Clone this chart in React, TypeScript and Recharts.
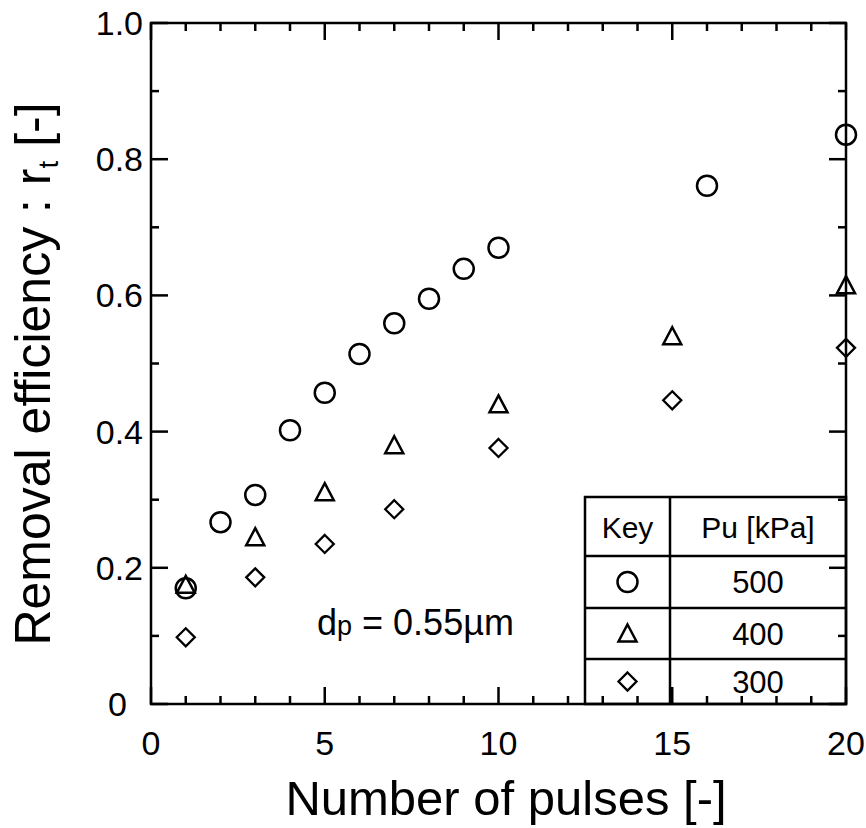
import React from 'react';
import { ScatterChart, Scatter, XAxis, YAxis, Customized } from 'recharts';

// removal efficiency, one pair of arrays per pressure
const pulses500 = [1, 2, 3, 4, 5, 6, 7, 8, 9, 10, 16, 20];
const eff500 = [0.17, 0.267, 0.307, 0.402, 0.457, 0.514, 0.559, 0.595, 0.639, 0.67, 0.761, 0.836];
const pulses400 = [1, 3, 5, 7, 10, 15, 20];
const eff400 = [0.175, 0.245, 0.311, 0.38, 0.44, 0.54, 0.615];
const pulses300 = [1, 3, 5, 7, 10, 15, 20];
const eff300 = [0.098, 0.186, 0.235, 0.286, 0.376, 0.446, 0.523];

const pressures = ['500', '400', '300'];
const xMajor = [0, 5, 10, 15, 20];
const xMinor = [1, 2, 3, 4, 6, 7, 8, 9, 11, 12, 13, 14, 16, 17, 18, 19];
const yMajor = [0, 0.2, 0.4, 0.6, 0.8, 1.0];
const yMinor = [0.1, 0.3, 0.5, 0.7, 0.9];
const yLabels = ['0', '0.2', '0.4', '0.6', '0.8', '1.0'];

const FONT = '"Liberation Sans", Arial, Helvetica, sans-serif';
const INK = '#000';
const MAJOR = 17;
const MINOR = 8;

// axes are hidden, so the margins alone place the plot frame
const W = 866;
const H = 828;
const MARGIN = { top: 23, right: 20, bottom: 124, left: 151 };
const PLOT = {
  left: MARGIN.left,
  right: W - MARGIN.right,
  top: MARGIN.top,
  bottom: H - MARGIN.bottom,
};
const X_MAX = 20;
const Y_MAX = 1;

const toPoints = (xs: number[], ys: number[]) => xs.map((x, i) => ({ x, y: ys[i] }));

const data500 = toPoints(pulses500, eff500);
const data400 = toPoints(pulses400, eff400);
const data300 = toPoints(pulses300, eff300);

// marker shapes
const circleAt = (cx: number, cy: number) => (
  <circle cx={cx} cy={cy} r={10} fill="none" stroke={INK} strokeWidth={2.5} />
);
const triangleAt = (cx: number, cy: number) => (
  <path d={`M${cx},${cy - 9} L${cx + 9},${cy + 8} L${cx - 9},${cy + 8} Z`} fill="none" stroke={INK} strokeWidth={2.5} />
);
const diamondAt = (cx: number, cy: number) => (
  <path d={`M${cx},${cy - 9} L${cx + 9},${cy} L${cx},${cy + 9} L${cx - 9},${cy} Z`} fill="none" stroke={INK} strokeWidth={2.3} />
);
const markers = [circleAt, triangleAt, diamondAt];

const px = (v: number) => PLOT.left + (v / X_MAX) * (PLOT.right - PLOT.left);
const py = (v: number) => PLOT.bottom - (v / Y_MAX) * (PLOT.bottom - PLOT.top);

// frame, inward ticks on all four sides, and tick labels
function Frame() {
  const xs = [...xMajor.map((v) => [v, MAJOR]), ...xMinor.map((v) => [v, MINOR])];
  const ys = [...yMajor.map((v) => [v, MAJOR]), ...yMinor.map((v) => [v, MINOR])];
  const s = { stroke: INK, strokeWidth: 2.5 };
  return (
    <g fontFamily={FONT} fill={INK}>
      <rect x={PLOT.left} y={PLOT.top} width={PLOT.right - PLOT.left} height={PLOT.bottom - PLOT.top} fill="none" {...s} />
      {xs.map(([v, len]) => (
        <g key={`x${v}`}>
          <line x1={px(v)} x2={px(v)} y1={PLOT.bottom} y2={PLOT.bottom - len} {...s} />
          <line x1={px(v)} x2={px(v)} y1={PLOT.top} y2={PLOT.top + len} {...s} />
        </g>
      ))}
      {ys.map(([v, len]) => (
        <g key={`y${v}`}>
          <line x1={PLOT.left} x2={PLOT.left + len} y1={py(v)} y2={py(v)} {...s} />
          <line x1={PLOT.right} x2={PLOT.right - len} y1={py(v)} y2={py(v)} {...s} />
        </g>
      ))}
      {xMajor.map((v) => (
        <text key={`xl${v}`} x={px(v)} y={PLOT.bottom + 51} textAnchor="middle" fontSize={34}>{v}</text>
      ))}
      {yMajor.map((v, i) => (
        <text key={`yl${v}`} x={PLOT.left - (v === 0 ? 24 : 8)} y={py(v) + 12} textAnchor="end" fontSize={34}>
          {yLabels[i]}
        </text>
      ))}
    </g>
  );
}

// key table in the lower right corner, plus axis titles and the size note
function Extras() {
  const left = 585;
  const mid = 670;
  const right = PLOT.right;
  const rows = [497, 556, 608, 659, PLOT.bottom];
  const keyX = (left + mid) / 2;
  const valX = (mid + right) / 2;
  return (
    <g fontFamily={FONT} fill={INK}>
      <rect x={left} y={rows[0]} width={right - left} height={rows[4] - rows[0]} fill="#fff" stroke={INK} strokeWidth={2.5} />
      <line x1={mid} x2={mid} y1={rows[0]} y2={rows[4]} stroke={INK} strokeWidth={2.5} />
      {rows.slice(1, 4).map((ry) => (
        <line key={ry} x1={left} x2={right} y1={ry} y2={ry} stroke={INK} strokeWidth={2.5} />
      ))}
      <text x={keyX} y={538} textAnchor="middle" fontSize={30}>Key</text>
      <text x={valX} y={538} textAnchor="middle" fontSize={30}>Pu [kPa]</text>
      {pressures.map((p, i) => {
        const cy = (rows[i + 1] + rows[i + 2]) / 2;
        return (
          <g key={p}>
            {markers[i](keyX, cy)}
            <text x={valX} y={cy + 11} textAnchor="middle" fontSize={31}>{p}</text>
          </g>
        );
      })}

      <text x={506} y={815} textAnchor="middle" fontSize={49}>Number of pulses [-]</text>
      <text transform="rotate(-90)" x={-374} y={50} textAnchor="middle" fontSize={50}>
        Removal efficiency : r<tspan fontSize={28} dy={8}>t</tspan><tspan dy={-8}> [-]</tspan>
      </text>
      <text x={317} y={635} fontSize={36}>
        d<tspan fontSize={27}>p</tspan> = 0.55µm
      </text>
    </g>
  );
}

export default function App() {
  return (
    <div style={{ position: 'absolute', left: 0, top: 0, background: '#fff' }}>
      <ScatterChart width={W} height={H} margin={MARGIN}>
        <XAxis xAxisId="bottom" dataKey="x" type="number" domain={[0, X_MAX]} ticks={xMajor} hide />
        <YAxis yAxisId="left" dataKey="y" type="number" domain={[0, Y_MAX]} ticks={yMajor} hide />

        <Customized component={Extras} />
        <Scatter
          name="500"
          xAxisId="bottom"
          yAxisId="left"
          data={data500}
          isAnimationActive={false}
          shape={(p: any) => circleAt(p.cx, p.cy)}
        />
        <Scatter
          name="400"
          xAxisId="bottom"
          yAxisId="left"
          data={data400}
          isAnimationActive={false}
          shape={(p: any) => triangleAt(p.cx, p.cy)}
        />
        <Scatter
          name="300"
          xAxisId="bottom"
          yAxisId="left"
          data={data300}
          isAnimationActive={false}
          shape={(p: any) => diamondAt(p.cx, p.cy)}
        />
        <Customized component={Frame} />
      </ScatterChart>
    </div>
  );
}
